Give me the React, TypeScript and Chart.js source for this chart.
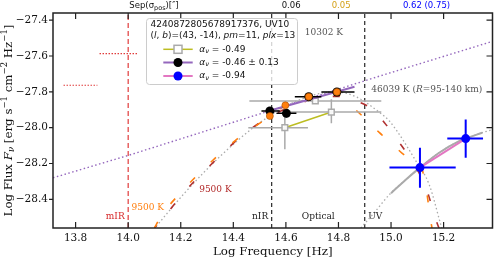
import React, { useEffect, useRef } from 'react';
import { Chart, registerables } from 'chart.js';

Chart.register(...registerables);

// ---------- axis ranges & ticks ----------
const X_MIN = 13.714;
const X_MAX = 15.386;
const Y_MIN = -28.56;
const Y_MAX = -27.36;
const xTicks = [13.8, 14.0, 14.2, 14.4, 14.6, 14.8, 15.0, 15.2];
const yTicks = [-28.4, -28.2, -28.0, -27.8, -27.6, -27.4];

// ---------- photometry: black points (alpha = -0.46) ----------
const blackFreq = [14.539, 14.602, 14.687, 14.794];
const blackFlux = [-27.907, -27.92, -27.827, -27.801];
const blackFreqLo = [14.507, 14.564, 14.634, 14.735];
const blackFreqHi = [14.577, 14.64, 14.735, 14.861];
const blackFluxLo = [-27.93, -27.943, -27.847, -27.821];
const blackFluxHi = [-27.885, -27.897, -27.807, -27.781];

// model fluxes (orange markers)
const modelFreq = [14.539, 14.598, 14.687, 14.794];
const modelFlux = [-27.935, -27.875, -27.827, -27.801];

// ---------- grey squares (alpha = -0.49) ----------
const sqFreq = [14.596, 14.712, 14.773];
const sqFlux = [-28.0, -27.851, -27.913];
const sqFreqLo = [14.457, 14.461, 14.615];
const sqFreqHi = [14.684, 14.963, 14.963];
const sqFluxLo = [-28.121, -27.866, -27.976];
const sqFluxHi = [-27.916, -27.836, -27.842];
const oliveFreq = [14.596, 14.773];
const oliveFlux = [-28.0, -27.913];

// ---------- blue UV points (alpha = -0.94) ----------
const uvFreq = [15.11, 15.284];
const uvFlux = [-28.223, -28.061];
const uvFreqLo = [14.994, 15.214];
const uvFreqHi = [15.246, 15.35];
const uvFluxLo = [-28.335, -28.168];
const uvFluxHi = [-28.112, -27.954];

// ---------- power law (purple) ----------
const plDotFreq = [13.714, 14.0, 14.957, 15.391];
const plDotFlux = [-28.28, -28.155, -27.712, -27.516];
const plSolidFreq = [14.527, 14.861];
const plSolidFlux = [-27.91, -27.772];

// ---------- blackbody 10302 K (grey dotted) ----------
const bbWarmFreq = [14.097, 14.217, 14.35, 14.482, 14.6, 14.7, 14.79, 14.87, 14.956, 14.994, 15.095, 15.145, 15.189, 15.195];
const bbWarmFlux = [-28.568, -28.361, -28.16, -27.993, -27.88, -27.82, -27.80, -27.83, -27.915, -27.963, -28.187, -28.317, -28.54, -28.57];

// ---------- blackbody 9500 K (orange dashed) ----------
const bbOrFreq = [14.1, 14.122, 14.211, 14.312, 14.413, 14.476, 14.539, 14.598, 14.687, 14.775, 14.848, 14.905, 14.956, 15.006, 15.057, 15.114, 15.133, 15.152, 15.157];
const bbOrFlux = [-28.56, -28.501, -28.345, -28.196, -28.065, -28.0, -27.937, -27.875, -27.827, -27.80, -27.879, -27.954, -28.028, -28.093, -28.159, -28.215, -28.335, -28.529, -28.57];

// ---------- blackbody 9500 K (dark red dashed) ----------
const bbRdFreq = [14.1, 14.129, 14.217, 14.362, 14.445, 14.55, 14.66, 14.76, 14.83, 14.868, 14.93, 14.975, 15.013, 15.063, 15.133, 15.17, 15.185];
const bbRdFlux = [-28.56, -28.512, -28.354, -28.14, -28.03, -27.93, -27.86, -27.825, -27.83, -27.851, -27.898, -27.972, -28.047, -28.149, -28.335, -28.512, -28.57];

// ---------- blackbody 46039 K (grey) ----------
const bbHotFreq = [14.885, 14.937, 14.994, 15.057, 15.11, 15.183, 15.259, 15.284, 15.347, 15.391];
const bbHotFlux = [-28.56, -28.473, -28.373, -28.289, -28.223, -28.14, -28.075, -28.061, -28.028, -28.009];
const bbHotSolidFreq = [15.0, 15.057, 15.11, 15.183, 15.259, 15.284, 15.347];
const bbHotSolidFlux = [-28.366, -28.289, -28.223, -28.14, -28.075, -28.061, -28.028];

// ---------- red dotted (mIR limits) ----------
const mirAFreq = [13.891, 14.038];
const mirAFlux = [-27.587, -27.587];
const mirBFreq = [13.754, 13.883];
const mirBFlux = [-27.763, -27.763];

// ---------- band edges ----------
const mirEdge = 14.0;
const bandEdges = [14.546, 14.9];

// ---------- texts ----------
const legendTitle1 = '4240872805678917376, UV10';
const legendValues = ['-0.49', '-0.46 \u00b1 0.13', '-0.94'];
const sepLabels = ['0.06', '0.05', '0.62 (0.75)'];
const sepLabelFreq = [14.62, 14.81, 15.135];
const sepColors = ['#111111', '#d4a017', '#0000ff'];

const SERIF = '"DejaVu Serif", serif';
const SANS = '"DejaVu Sans", sans-serif';

const pts = (xs: number[], ys: number[]) => xs.map((x, i) => ({ x, y: ys[i] }));

type Seg = { t: string; f: string; dy?: number; c?: string };
function drawRich(ctx: CanvasRenderingContext2D, segs: Seg[], x: number, y: number, align: 'left' | 'center' | 'right', color: string) {
  let w = 0;
  for (const s of segs) { ctx.font = s.f; w += ctx.measureText(s.t).width; }
  let cx = align === 'left' ? x : align === 'center' ? x - w / 2 : x - w;
  ctx.textAlign = 'left';
  ctx.textBaseline = 'middle';
  for (const s of segs) {
    ctx.font = s.f;
    ctx.fillStyle = s.c || color;
    ctx.fillText(s.t, cx, y + (s.dy || 0));
    cx += ctx.measureText(s.t).width;
  }
}

const errorBarPlugin = {
  id: 'errbars',
  beforeDatasetDraw(chart: any, args: any) {
    const ds = chart.data.datasets[args.index];
    const e = ds.err;
    if (!e) return;
    const { ctx } = chart;
    const xs = chart.scales.x;
    const ys = chart.scales.y;
    ctx.save();
    ctx.strokeStyle = e.color;
    ctx.lineWidth = e.width;
    ctx.setLineDash([]);
    e.xs.forEach((xv: number, i: number) => {
      const px = xs.getPixelForValue(xv);
      const py = ys.getPixelForValue(e.ys[i]);
      ctx.beginPath();
      ctx.moveTo(xs.getPixelForValue(e.xLo[i]), py);
      ctx.lineTo(xs.getPixelForValue(e.xHi[i]), py);
      ctx.moveTo(px, ys.getPixelForValue(e.yLo[i]));
      ctx.lineTo(px, ys.getPixelForValue(e.yHi[i]));
      ctx.stroke();
    });
    ctx.restore();
  },
};

const decorPlugin = {
  id: 'decor',
  afterDraw(chart: any) {
    const { ctx, chartArea: a } = chart;
    const xs = chart.scales.x;
    const ys = chart.scales.y;
    ctx.save();
    // frame
    ctx.strokeStyle = '#222';
    ctx.lineWidth = 1.5;
    ctx.setLineDash([]);
    ctx.strokeRect(a.left, a.top, a.right - a.left, a.bottom - a.top);
    // ticks
    ctx.lineWidth = 1.2;
    ctx.beginPath();
    xs.ticks.forEach((t: any) => {
      const px = xs.getPixelForValue(t.value);
      ctx.moveTo(px, a.bottom); ctx.lineTo(px, a.bottom - 6);
      ctx.moveTo(px, a.top); ctx.lineTo(px, a.top + 6);
    });
    ys.ticks.forEach((t: any) => {
      const py = ys.getPixelForValue(t.value);
      ctx.moveTo(a.left, py); ctx.lineTo(a.left - 4, py);
      ctx.moveTo(a.right, py); ctx.lineTo(a.right - 6, py);
    });
    ctx.stroke();

    // axis titles
    const tf = 11.8;
    drawRich(ctx, [{ t: 'Log Frequency [Hz]', f: `${tf}px ${SERIF}` }], (a.left + a.right) / 2, 251.5, 'center', '#111');
    ctx.save();
    ctx.translate(9, (a.top + a.bottom) / 2);
    ctx.rotate(-Math.PI / 2);
    const sup = `8.5px ${SERIF}`;
    drawRich(ctx, [
      { t: 'Log Flux ', f: `${tf}px ${SERIF}` },
      { t: 'F', f: `italic ${tf}px ${SERIF}` },
      { t: '\u03bd', f: `italic 8.5px ${SERIF}`, dy: 3 },
      { t: ' [erg s', f: `${tf}px ${SERIF}` },
      { t: '\u22121', f: sup, dy: -4 },
      { t: ' cm', f: `${tf}px ${SERIF}` },
      { t: '\u22122', f: sup, dy: -4 },
      { t: ' Hz', f: `${tf}px ${SERIF}` },
      { t: '\u22121', f: sup, dy: -4 },
      { t: ']', f: `${tf}px ${SERIF}` },
    ], 0, 0, 'center', '#111');
    ctx.restore();

    // top separation labels
    const sf = `8.5px ${SANS}`;
    drawRich(ctx, [
      { t: 'Sep(', f: sf },
      { t: '\u03c3', f: sf },
      { t: 'pos', f: `6.5px ${SANS}`, dy: 2 },
      { t: ')[', f: sf },
      { t: '\u2033', f: `italic ${sf}` },
      { t: ']', f: sf },
    ], 154, 6, 'center', '#111');
    sepLabels.forEach((s, i) => {
      drawRich(ctx, [{ t: s, f: sf }], xs.getPixelForValue(sepLabelFreq[i]), 6, 'center', sepColors[i]);
    });

    // annotations
    const af = `9px ${SERIF}`;
    drawRich(ctx, [{ t: '10302 K', f: af }], xs.getPixelForValue(14.672), ys.getPixelForValue(-27.468), 'left', '#555');
    drawRich(ctx, [
      { t: '46039 K (', f: af },
      { t: 'R', f: `italic ${af}` },
      { t: '=95-140 km)', f: af },
    ], xs.getPixelForValue(14.925), ys.getPixelForValue(-27.786), 'left', '#555');
    drawRich(ctx, [{ t: '9500 K', f: af }], xs.getPixelForValue(14.0125), ys.getPixelForValue(-28.444), 'left', '#ff7f0e');
    drawRich(ctx, [{ t: '9500 K', f: af }], xs.getPixelForValue(14.27), ys.getPixelForValue(-28.345), 'left', '#b22a2a');
    const by = ys.getPixelForValue(-28.496);
    drawRich(ctx, [{ t: 'mIR', f: af }], xs.getPixelForValue(mirEdge) - 3.5, by, 'right', '#d62728');
    drawRich(ctx, [{ t: 'nIR', f: af }], xs.getPixelForValue(bandEdges[0]) - 3.5, by, 'right', '#222');
    drawRich(ctx, [{ t: 'Optical', f: af }], (xs.getPixelForValue(bandEdges[0]) + xs.getPixelForValue(bandEdges[1])) / 2, by, 'center', '#222');
    drawRich(ctx, [{ t: 'UV', f: af }], xs.getPixelForValue(bandEdges[1]) + 3.5, by, 'left', '#222');

    // legend
    const lx = 146, ly = 18, lw = 151, lh = 66;
    ctx.beginPath();
    (ctx as any).roundRect(lx + 0.5, ly + 0.5, lw, lh, 3);
    ctx.fillStyle = 'rgba(255,255,255,0.8)';
    ctx.fill();
    ctx.strokeStyle = '#cccccc';
    ctx.lineWidth = 1;
    ctx.stroke();
    const lf = `9px ${SANS}`;
    const lfi = `italic 9px ${SANS}`;
    drawRich(ctx, [{ t: legendTitle1, f: lf }], 150.5, 25, 'left', '#111');
    drawRich(ctx, [
      { t: '(', f: lf }, { t: 'l', f: lfi }, { t: ', ', f: lf }, { t: 'b', f: lfi },
      { t: ')=(43, -14), ', f: lf }, { t: 'pm', f: lfi }, { t: '=11, ', f: lf },
      { t: 'plx', f: lfi }, { t: '=13', f: lf },
    ], 150.5, 35.5, 'left', '#111');
    const rowY = [49.3, 62.5, 76];
    const rowLine = ['#bcbd22', '#9467bd', '#e377c2'];
    rowY.forEach((yy, i) => {
      ctx.setLineDash([]);
      ctx.strokeStyle = rowLine[i];
      ctx.lineWidth = i === 0 ? 1.5 : 2;
      ctx.beginPath();
      ctx.moveTo(163.3, yy); ctx.lineTo(192.7, yy);
      ctx.stroke();
      if (i === 0) {
        ctx.fillStyle = '#fff';
        ctx.strokeStyle = '#aaaaaa';
        ctx.lineWidth = 1.5;
        ctx.fillRect(174, yy - 4, 8, 8);
        ctx.strokeRect(174, yy - 4, 8, 8);
      } else {
        ctx.fillStyle = i === 1 ? '#000' : '#0000ff';
        ctx.beginPath();
        ctx.arc(178, yy, 4.5, 0, Math.PI * 2);
        ctx.fill();
      }
      drawRich(ctx, [
        { t: '\u03b1', f: lfi },
        { t: '\u03bd', f: `italic 6.5px ${SANS}`, dy: 2 },
        { t: ' = ' + legendValues[i], f: lf },
      ], 199.3, yy, 'left', '#111');
    });
    ctx.restore();
  },
};

function makeConfig(): any {
  const line = (data: any[], color: string, width: number, dash: number[], order: number, smooth = false, extra: any = {}) => ({
    data, borderColor: color, borderWidth: width, borderDash: dash, pointRadius: 0, fill: false,
    showLine: true, order, cubicInterpolationMode: smooth ? 'monotone' : 'default', tension: 0, ...extra,
  });
  const datasets: any[] = [
    // band edges
    line(pts([mirEdge, mirEdge], [Y_MIN, Y_MAX]), '#e03a3a', 1.2, [5, 3], 100),
    line(pts([bandEdges[0], bandEdges[0]], [Y_MIN, Y_MAX]), '#111', 1.1, [4, 3], 100),
    line(pts([bandEdges[1], bandEdges[1]], [Y_MIN, Y_MAX]), '#111', 1.1, [4, 3], 100),
    // mIR dotted
    line(pts(mirAFreq, mirAFlux), '#e03a3a', 1.1, [1.5, 1.5], 95),
    line(pts(mirBFreq, mirBFlux), '#e03a3a', 1.1, [1.5, 1.5], 95),
    // power law dotted
    line(pts(plDotFreq, plDotFlux), '#9467bd', 1.4, [1.5, 2.5], 90),
    // blackbodies
    line(pts(bbWarmFreq, bbWarmFlux), '#aaaaaa', 1.3, [1.5, 2.5], 85, true),
    line(pts(bbHotFreq, bbHotFlux), '#aaaaaa', 1.3, [1.5, 2.5], 85, true),
    line(pts(bbHotSolidFreq, bbHotSolidFlux), '#aaaaaa', 2, [], 80, true),
    line(pts(bbRdFreq, bbRdFlux), '#b03030', 1.6, [7, 22], 72, true, { borderDashOffset: 4 }),
    line(pts(bbOrFreq, bbOrFlux), '#ff7f0e', 1.6, [7, 22], 70, true, { borderDashOffset: 0 }),
    // olive connecting line
    line(pts(oliveFreq, oliveFlux), '#bcbd22', 1.5, [], 60),
    // grey squares
    {
      data: pts(sqFreq, sqFlux), showLine: false, pointStyle: 'rect', pointRadius: 4,
      pointBackgroundColor: 'rgba(255,255,255,0.9)', pointBorderColor: '#aaaaaa', pointBorderWidth: 1.5, order: 50,
      err: { xs: sqFreq, ys: sqFlux, xLo: sqFreqLo, xHi: sqFreqHi, yLo: sqFluxLo, yHi: sqFluxHi, color: '#aaaaaa', width: 1.5 },
    },
    // power law solid
    line(pts(plSolidFreq, plSolidFlux), '#9467bd', 2, [], 45),
    // black points
    {
      data: pts(blackFreq, blackFlux), showLine: false, pointStyle: 'circle', pointRadius: 4.5,
      pointBackgroundColor: '#000', pointBorderColor: '#000', pointBorderWidth: 0, order: 40,
      err: { xs: blackFreq, ys: blackFlux, xLo: blackFreqLo, xHi: blackFreqHi, yLo: blackFluxLo, yHi: blackFluxHi, color: '#000', width: 1.5 },
    },
    // model fluxes
    {
      data: pts(modelFreq, modelFlux), showLine: false, pointStyle: 'circle', pointRadius: 3.5,
      pointBackgroundColor: '#ff7f0e', pointBorderColor: '#a34d00', pointBorderWidth: 0.6, order: 35,
    },
    // pink line
    line(pts(uvFreq, uvFlux), '#e377c2', 2, [], 30),
    // blue points
    {
      data: pts(uvFreq, uvFlux), showLine: false, pointStyle: 'circle', pointRadius: 4.5,
      pointBackgroundColor: '#0000ff', pointBorderColor: '#0000ff', pointBorderWidth: 0, order: 20,
      err: { xs: uvFreq, ys: uvFlux, xLo: uvFreqLo, xHi: uvFreqHi, yLo: uvFluxLo, yHi: uvFluxHi, color: '#0000ff', width: 2 },
    },
  ];
  const tickFont = { family: SERIF, size: 10.5 };
  return {
    type: 'line',
    data: { datasets },
    options: {
      responsive: false,
      animation: false,
      events: [],
      layout: { padding: { left: 0, right: 4, top: 13, bottom: 0 } },
      plugins: { legend: { display: false }, tooltip: { enabled: false } },
      scales: {
        x: {
          type: 'linear', position: 'bottom', min: X_MIN, max: X_MAX, bounds: 'data',
          grid: { display: false, drawTicks: false }, border: { display: false },
          ticks: { font: tickFont, color: '#111', padding: 4, maxRotation: 0, autoSkip: false,
            callback: (v: number) => v.toFixed(1) },
          afterBuildTicks: (s: any) => { s.ticks = xTicks.map((v) => ({ value: v })); },
          afterFit: (s: any) => { s.height = 33; },
        },
        y: {
          type: 'linear', position: 'left', min: Y_MIN, max: Y_MAX, bounds: 'data',
          grid: { display: false, drawTicks: false }, border: { display: false },
          ticks: { font: tickFont, color: '#111', padding: 5, autoSkip: false,
            callback: (v: number) => (v < 0 ? '\u2212' : '') + Math.abs(v).toFixed(1) },
          afterBuildTicks: (s: any) => { s.ticks = yTicks.map((v) => ({ value: v })); },
          afterFit: (s: any) => { s.width = 53; },
        },
      },
    },
    plugins: [errorBarPlugin, decorPlugin],
  };
}

export default function App() {
  const ref = useRef<HTMLCanvasElement>(null);
  useEffect(() => {
    const chart = new Chart(ref.current as HTMLCanvasElement, makeConfig());
    return () => chart.destroy();
  }, []);
  return (
    <div style={{ position: 'absolute', left: 0, top: 0, width: 498, height: 261, background: '#fff' }}>
      <canvas ref={ref} width={498} height={261} style={{ width: 498, height: 261, display: 'block' }} />
    </div>
  );
}
